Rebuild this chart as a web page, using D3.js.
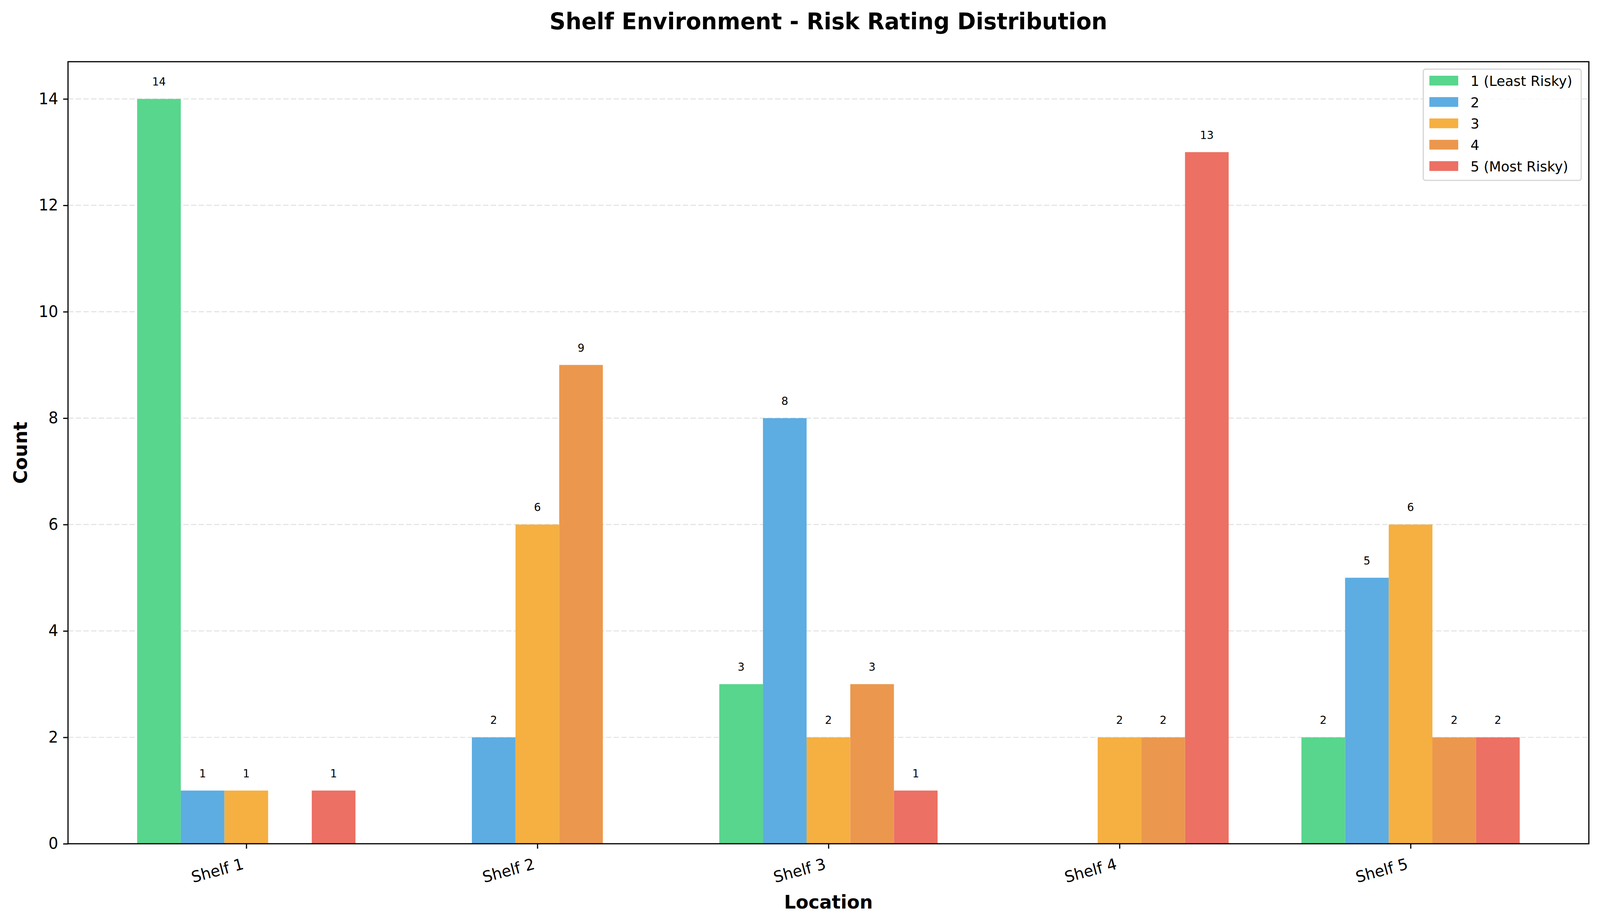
<!DOCTYPE html>
<html>
<head>
<meta charset="utf-8">
<title>Shelf Environment - Risk Rating Distribution</title>
<script src="https://cdn.jsdelivr.net/npm/d3@7"></script>
<style>
    html, body { margin: 0; padding: 0; background: #ffffff; overflow: hidden; }
    #chart { width: 100vw; height: 100vh; }
    svg { display: block; width: 100%; height: 100%; font-family: "DejaVu Sans", sans-serif; }
</style>
</head>
<body>
<div id="chart"></div>
<script>
"use strict";

// Data
const locations = ["Shelf 1", "Shelf 2", "Shelf 3", "Shelf 4", "Shelf 5"];
const ratings = ["1 (Least Risky)", "2", "3", "4", "5 (Most Risky)"];
const rating1 = [14, 0, 3, 0, 2];
const rating2 = [1, 2, 8, 0, 5];
const rating3 = [1, 6, 2, 2, 6];
const rating4 = [0, 9, 3, 2, 2];
const rating5 = [1, 0, 1, 13, 2];
const yTicks = [0, 2, 4, 6, 8, 10, 12, 14];
const colors = ["#58D68D", "#5DADE2", "#F5B041", "#EB984E", "#EC7063"];

const series = [rating1, rating2, rating3, rating4, rating5];

var width = 4164, height = 2364;
var margin = { top: 158, right: 29, bottom: 203, left: 177 };
var plotW = width - margin.left - margin.right;
var plotH = height - margin.top - margin.bottom;

// viewBox stretched over the whole viewport
var svg = d3.select("#chart")
    .append("svg")
    .attr("viewBox", "0 0 " + width + " " + height)
    .attr("preserveAspectRatio", "none");

svg.append("rect")
    .attr("width", width)
    .attr("height", height)
    .attr("fill", "#ffffff");

var g = svg.append("g")
    .attr("transform", "translate(" + margin.left + "," + margin.top + ")");

// Bar width 0.15 per rating, matplotlib-like margins on the x range
var barW = 0.15;
var x = d3.scaleLinear()
    .domain([-0.6125, locations.length - 1 + 0.6125])
    .range([0, plotW]);
var y = d3.scaleLinear()
    .domain([0, 14.7])
    .range([plotH, 0]);

// Grid lines (y only), behind the bars
g.append("g")
    .selectAll("line")
    .data(yTicks)
    .join("line")
    .attr("x1", 0)
    .attr("x2", plotW)
    .attr("y1", d => y(d))
    .attr("y2", d => y(d))
    .attr("stroke", "#e3e3e3")
    .attr("stroke-width", 2.7)
    .attr("stroke-dasharray", "14,6");

// Bars
var rows = [];
series.forEach(function (vals, si) {
    vals.forEach(function (v, li) {
        rows.push({ s: si, l: li, v: v });
    });
});

g.append("g")
    .selectAll("rect")
    .data(rows)
    .join("rect")
    .attr("x", d => x(d.l + (d.s - 2) * barW - barW / 2))
    .attr("width", d => x(barW) - x(0))
    .attr("y", d => y(d.v))
    .attr("height", d => y(0) - y(d.v))
    .attr("fill", d => colors[d.s]);

// Value labels, only non-zero bars
g.append("g")
    .selectAll("text")
    .data(rows.filter(d => d.v > 0))
    .join("text")
    .attr("x", d => x(d.l + (d.s - 2) * barW))
    .attr("y", d => y(d.v) - 34)
    .attr("text-anchor", "middle")
    .attr("font-size", 28)
    .attr("fill", "#000")
    .text(d => d.v);

// Y axis
var yAxis = g.append("g")
    .call(d3.axisLeft(y).tickValues(yTicks).tickSize(12.6).tickPadding(13).tickFormat(d3.format("d")));
yAxis.select(".domain").remove();
yAxis.selectAll(".tick line").attr("stroke", "#000").attr("stroke-width", 3);
yAxis.selectAll(".tick text")
    .attr("font-size", 40)
    .attr("font-family", "DejaVu Sans")
    .attr("fill", "#000");

// X axis
var xAxis = g.append("g")
    .attr("transform", "translate(0," + plotH + ")")
    .call(d3.axisBottom(x).tickValues(d3.range(locations.length)).tickSize(12.6).tickFormat(i => locations[i]));
xAxis.select(".domain").remove();
xAxis.selectAll(".tick line").attr("stroke", "#000").attr("stroke-width", 3);
xAxis.selectAll(".tick text")
    .attr("font-size", 40)
    .attr("font-family", "DejaVu Sans")
    .attr("fill", "#000")
    .attr("text-anchor", "end")
    .attr("dy", null)
    .attr("y", null)
    .attr("transform", "translate(-5,64) rotate(-15)");

// Frame around the plot
g.append("rect")
    .attr("width", plotW)
    .attr("height", plotH)
    .attr("fill", "none")
    .attr("stroke", "#000")
    .attr("stroke-width", 3);

// Title and axis labels
svg.append("text")
    .attr("x", margin.left + plotW / 2)
    .attr("y", 75)
    .attr("text-anchor", "middle")
    .attr("font-size", 58)
    .attr("font-weight", "bold")
    .text("Shelf Environment - Risk Rating Distribution");

svg.append("text")
    .attr("x", margin.left + plotW / 2)
    .attr("y", 2327)
    .attr("text-anchor", "middle")
    .attr("font-size", 48)
    .attr("font-weight", "bold")
    .text("Location");

svg.append("text")
    .attr("transform", "translate(70," + (margin.top + plotH / 2) + ") rotate(-90)")
    .attr("text-anchor", "middle")
    .attr("font-size", 48)
    .attr("font-weight", "bold")
    .text("Count");

// Legend, top right
var legend = svg.append("g")
    .attr("transform", "translate(3704,177)");

legend.append("rect")
    .attr("width", 411)
    .attr("height", 285)
    .attr("rx", 6)
    .attr("fill", "#ffffff")
    .attr("fill-opacity", 0.8)
    .attr("stroke", "#d6d6d6")
    .attr("stroke-width", 3);

var item = legend.selectAll("g.item")
    .data(ratings)
    .join("g")
    .attr("class", "item")
    .attr("transform", (d, i) => "translate(0," + (29.5 + i * 54.7) + ")");

item.append("rect")
    .attr("x", 16)
    .attr("y", -12.5)
    .attr("width", 75)
    .attr("height", 25)
    .attr("fill", (d, i) => colors[i]);

item.append("text")
    .attr("x", 123)
    .attr("y", 13.5)
    .attr("font-size", 36)
    .attr("fill", "#000")
    .text(d => d);
</script>
</body>
</html>
